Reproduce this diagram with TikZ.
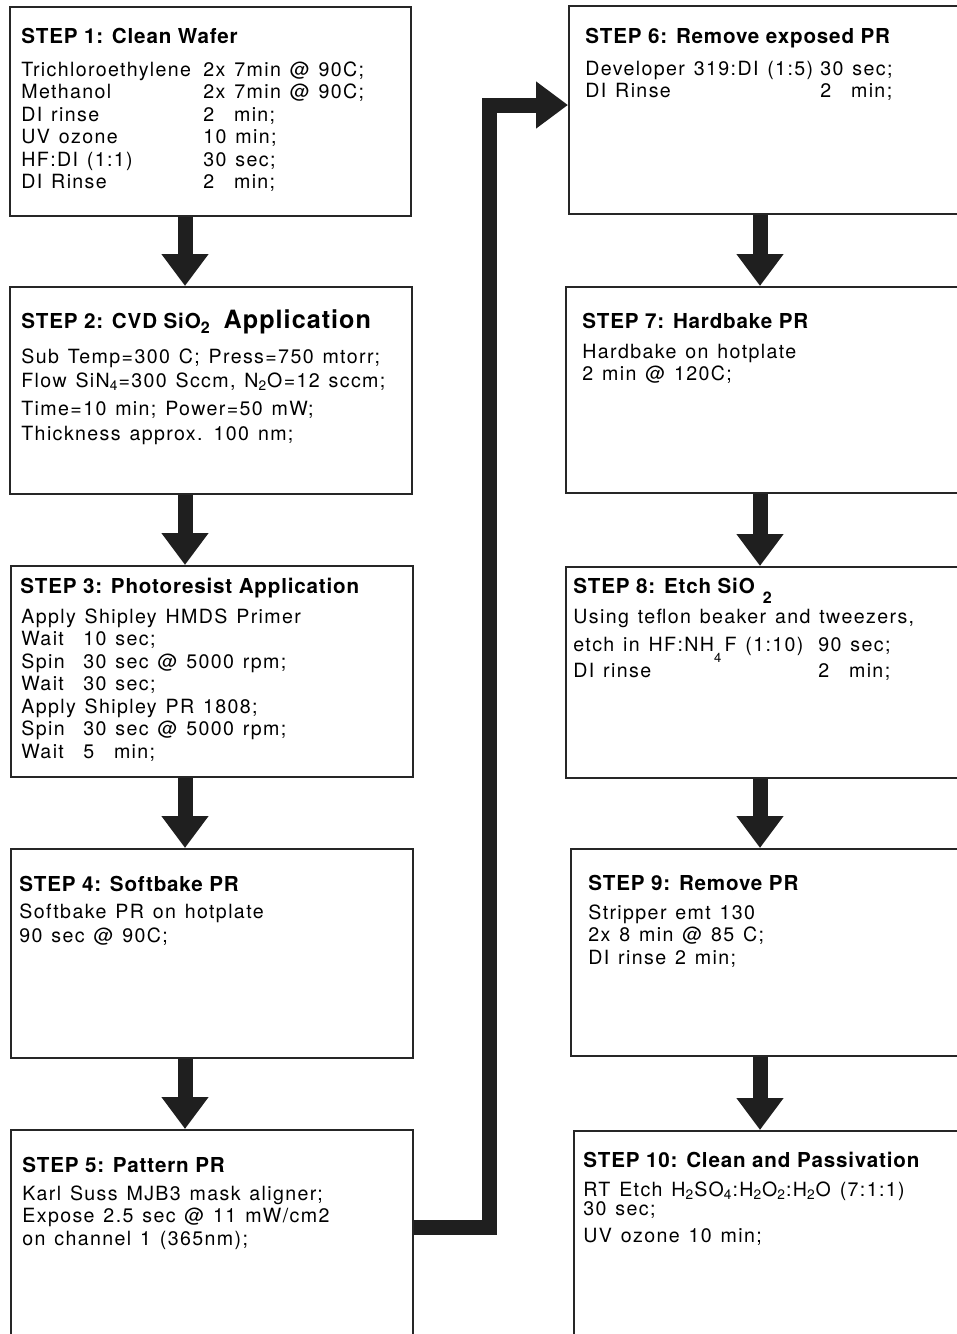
\documentclass[tikz,border=0pt]{standalone}
\usepackage{fontspec}
\setmainfont{TeX Gyre Heros}
\newfontfamily\bodyfont[LetterSpace=7,WordSpace=1.3]{TeX Gyre Heros}
\newfontfamily\headfont[LetterSpace=4]{TeX Gyre Heros}
\usetikzlibrary{arrows.meta}
\tikzset{
    stepbox/.style={draw=black!85, rectangle, inner sep=0pt, anchor=north west, line width=0.8pt},
    steptitle/.style={anchor=base west, inner sep=0pt, font=\headfont\bfseries\fontsize{10.3}{12}\selectfont},
    steptext/.style={anchor=base west, inner sep=0pt, font=\bodyfont\fontsize{9.8}{11.25}\selectfont},
    flow/.style={line width=7.5pt, draw=black!88, line join=miter, -{Triangle[width=22.5pt,length=16pt]}}
}
\newcommand{\padto}[2]{\makebox[#1][l]{#2}}

\begin{document}
\begin{tikzpicture}[x=0.5pt, y=-0.5pt]
        \clip (0,0) rectangle (957,1334);

        % -----------------------------------------------------------------
        % LEFT COLUMN: STEP 1 - 5
        % -----------------------------------------------------------------
        \node[stepbox, minimum width=200.5pt, minimum height=104.5pt] (s1) at (9,6) {};
        \node[steptitle] (s1t) at (21,43) {STEP 1: Clean Wafer};
        \node[steptext] (s1b) at (21,76) {\begin{tabular}[t]{@{}l@{}}
            \padto{91pt}{Trichloroethylene}2x 7min @ 90C;\\
            \padto{91pt}{Methanol}2x 7min @ 90C;\\
            \padto{91pt}{DI rinse}2\phantom{0} min;\\
            \padto{91pt}{UV ozone}10 min;\\
            \padto{91pt}{HF:DI (1:1)}30 sec;\\
            \padto{91pt}{DI Rinse}2\phantom{0} min;
        \end{tabular}};

        \node[stepbox, minimum width=201pt, minimum height=103.5pt] (s2) at (9,286) {};
        \node[steptitle] (s2t) at (21,328) {STEP 2: CVD SiO\raisebox{-2.5pt}{\fontsize{8}{8}\selectfont 2}\hspace{7pt}{\fontsize{12.6}{14}\selectfont Application}};
        \node[steptext] (s2b) at (21,363) {\begin{tabular}[t]{@{}l@{}}
            Sub Temp=300 C; Press=750 mtorr;\\[0.75pt]
            Flow SiN\textsubscript{4}=300 Sccm, N\textsubscript{2}O=12 sccm;\\[2.75pt]
            Time=10 min; Power=50 mW;\\[1.25pt]
            Thickness approx. 100 nm;
        \end{tabular}};

        \node[stepbox, minimum width=201pt, minimum height=105.5pt] (s3) at (10,565) {};
        \node[steptitle] (s3t) at (20,593) {STEP 3: Photoresist Application};
        \node[steptext] (s3b) at (21,623) {\begin{tabular}[t]{@{}l@{}}
            Apply Shipley HMDS Primer\\
            \padto{31pt}{Wait}10 sec;\\
            \padto{31pt}{Spin}30 sec @ 5000 rpm;\\
            \padto{31pt}{Wait}30 sec;\\
            Apply Shipley PR 1808;\\
            \padto{31pt}{Spin}30 sec @ 5000 rpm;\\
            \padto{31pt}{Wait}5\phantom{0} min;
        \end{tabular}};

        \node[stepbox, minimum width=201pt, minimum height=104.5pt] (s4) at (10,848) {};
        \node[steptitle] (s4t) at (19,891) {STEP 4: Softbake PR};
        \node[steptext] (s4b) at (19,918) {\begin{tabular}[t]{@{}l@{}}
            Softbake PR on hotplate\\[0.75pt]
            90 sec @ 90C;
        \end{tabular}};

        \node[stepbox, minimum width=201pt, minimum height=110.5pt] (s5) at (10,1129) {};
        \node[steptitle] (s5t) at (22,1172) {STEP 5: Pattern PR};
        \node[steptext] (s5b) at (22,1200) {\begin{tabular}[t]{@{}l@{}}
            Karl Suss MJB3 mask aligner;\\
            Expose 2.5 sec @ 11 mW/cm2\\
            on channel 1 (365nm);
        \end{tabular}};

        % -----------------------------------------------------------------
        % RIGHT COLUMN: STEP 6 - 10
        % -----------------------------------------------------------------
        \node[stepbox, minimum width=206pt, minimum height=104pt] (s6) at (568,5) {};
        \node[steptitle] (s6t) at (585,43) {STEP 6: Remove exposed PR};
        \node[steptext] (s6b) at (585,75) {\begin{tabular}[t]{@{}l@{}}
            \padto{117.5pt}{Developer 319:DI (1:5)}30 sec;\\
            \padto{117.5pt}{DI Rinse}2\phantom{0} min;
        \end{tabular}};

        \node[stepbox, minimum width=207.5pt, minimum height=103pt] (s7) at (565,286) {};
        \node[steptitle] (s7t) at (582,328) {STEP 7: Hardbake PR};
        \node[steptext] (s7b) at (582,358) {\begin{tabular}[t]{@{}l@{}}
            Hardbake on hotplate\\
            2 min @ 120C;
        \end{tabular}};

        \node[stepbox, minimum width=207.5pt, minimum height=105.5pt] (s8) at (565,566) {};
        \node[steptitle] (s8t) at (573,593) {STEP 8: Etch SiO\hspace{4pt}\raisebox{-5pt}{\fontsize{8}{8}\selectfont 2}};
        \node[steptext] (s8b) at (573,623) {\begin{tabular}[t]{@{}l@{}}
            Using teflon beaker and tweezers,\\[2.75pt]
            \padto{122.5pt}{etch in HF:NH\raisebox{-5.5pt}{\fontsize{6.5}{7}\selectfont 4}\,F (1:10)}90 sec;\\[0.75pt]
            \padto{122.5pt}{DI rinse}2\phantom{0} min;
        \end{tabular}};

        \node[stepbox, minimum width=205pt, minimum height=103.5pt] (s9) at (570,848) {};
        \node[steptitle] (s9t) at (588,890) {STEP 9: Remove PR};
        \node[steptext] (s9b) at (588,919) {\begin{tabular}[t]{@{}l@{}}
            Stripper emt 130\\
            2x 8 min @ 85 C;\\
            DI rinse 2 min;
        \end{tabular}};

        \node[stepbox, minimum width=203.5pt, minimum height=110pt] (s10) at (573,1130) {};
        \node[steptitle] (s10t) at (583,1167) {STEP 10: Clean and Passivation};
        \node[steptext] (s10b) at (583,1196) {\begin{tabular}[t]{@{}l@{}}
            RT Etch H\textsubscript{2}SO\textsubscript{4}:H\textsubscript{2}O\textsubscript{2}:H\textsubscript{2}O (7:1:1)\\[-1.75pt]
            30 sec;\\[2.25pt]
            UV ozone 10 min;
        \end{tabular}};

        % -----------------------------------------------------------------
        % FRECCE
        % -----------------------------------------------------------------
        \coordinate (lx) at (185,0);
        \coordinate (rx) at (760,0);
        \draw[flow] (s1.south -| lx) -- (s2.north -| lx);
        \draw[flow] (s2.south -| lx) -- (s3.north -| lx);
        \draw[flow] (s3.south -| lx) -- (s4.north -| lx);
        \draw[flow] (s4.south -| lx) -- (s5.north -| lx);

        \coordinate (riser) at (489,1227);
        \coordinate (top) at (489,105);
        \draw[flow] (riser -| s5.east) -- (riser) -- (top) -- (top -| s6.west);

        \draw[flow] (s6.south -| rx) -- (s7.north -| rx);
        \draw[flow] (s7.south -| rx) -- (s8.north -| rx);
        \draw[flow] (s8.south -| rx) -- (s9.north -| rx);
        \draw[flow] (s9.south -| rx) -- (s10.north -| rx);

    \end{tikzpicture}
\end{document}
